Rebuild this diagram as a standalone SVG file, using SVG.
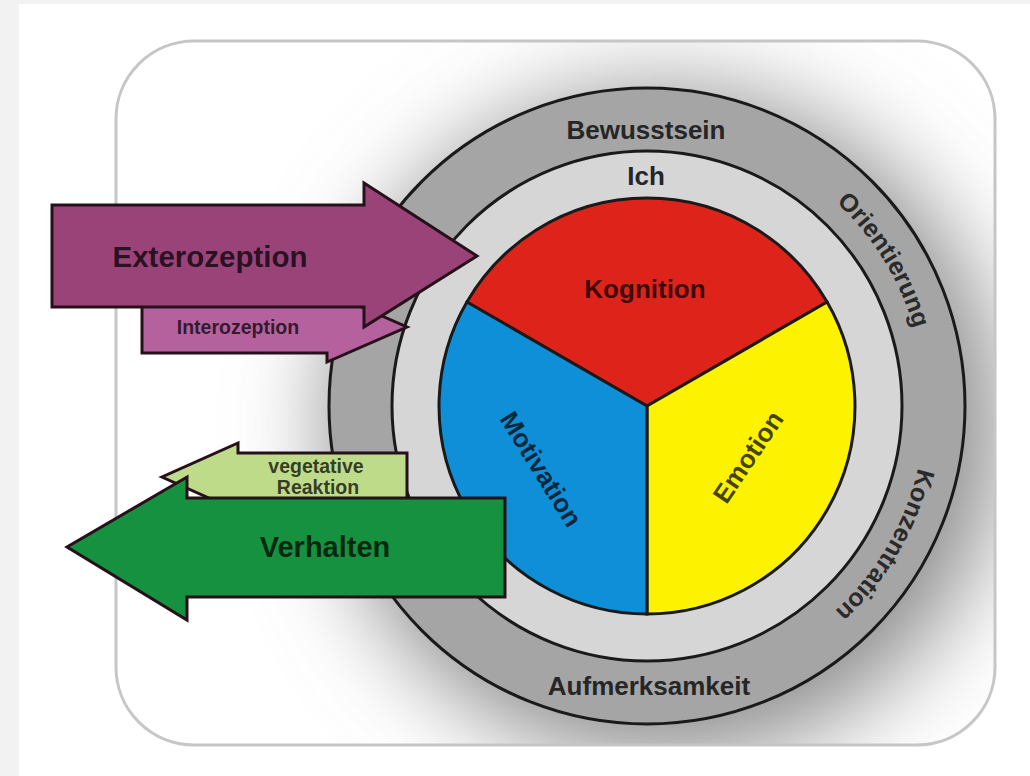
<svg xmlns="http://www.w3.org/2000/svg" width="1030" height="776" viewBox="0 0 1030 776">
  <defs>
    <style>
      .t { font-family: "Liberation Sans", Arial, sans-serif; font-weight: bold; text-anchor: middle; fill: #000; fill-opacity: 0.74; }
      .ring { font-family: "Liberation Sans", Arial, sans-serif; font-size: 26px; font-weight: bold; text-anchor: middle; fill: #262626; }
      .arc { font-family: "Liberation Sans", Arial, sans-serif; font-size: 25px; font-weight: bold; text-anchor: middle; fill: #2a2a2a; }
      .edge { stroke: #1a1a1a; stroke-width: 3; stroke-linejoin: miter; }
      .arrow { stroke: #261019; stroke-width: 3; stroke-linejoin: miter; }
    </style>
    <clipPath id="frameClip">
      <rect x="116" y="41" width="879" height="704" rx="78" ry="78"/>
    </clipPath>
    <filter id="halo" x="-50%" y="-50%" width="200%" height="200%">
      <feGaussianBlur stdDeviation="48"/>
    </filter>
    <!-- clockwise circle for the curved ring captions, starting at the top -->
    <path id="ringPath" d="M 647,128 A 278 278 0 1 1 647,684 A 278 278 0 1 1 647,128"/>
  </defs>

  <!-- page -->
  <rect x="0" y="0" width="1030" height="776" fill="#f2f2f2"/>
  <rect x="19" y="4" width="1011" height="772" fill="#ffffff"/>

  <!-- soft shadow behind the rings, kept inside the frame -->
  <g clip-path="url(#frameClip)">
    <circle cx="665" cy="425" r="335" fill="#8c8c8c" filter="url(#halo)"/>
  </g>
  <rect id="frame" x="116" y="41" width="879" height="704" rx="78" ry="78" fill="none" stroke="#c6c6c6" stroke-width="3"/>

  <!-- outer ring -->
  <g id="bewusstsein">
    <circle cx="647" cy="406" r="318" fill="#a5a5a5" class="edge"/>
    <text class="ring" x="646" y="139">Bewusstsein</text>
    <text class="arc"><textPath href="#ringPath" startOffset="283">Orientierung</textPath></text>
    <text class="arc"><textPath href="#ringPath" startOffset="583">Konzentration</textPath></text>
    <text class="ring" x="649" y="695">Aufmerksamkeit</text>
  </g>

  <!-- inner ring -->
  <g id="ich">
    <circle cx="647" cy="406" r="255" fill="#d6d6d6" class="edge"/>
    <text class="ring" x="646" y="185" font-size="25">Ich</text>
  </g>

  <!-- three sectors -->
  <g id="kognition">
    <path d="M 647,406 L 466.9,302 A 208 208 0 0 1 827.1,302 Z" fill="#de231b" class="edge"/>
    <text class="t" x="645" y="298" font-size="26">Kognition</text>
  </g>
  <g id="emotion">
    <path d="M 647,406 L 827.1,302 A 208 208 0 0 1 647,614 Z" fill="#fdf300" class="edge"/>
    <text class="t" font-size="26" transform="translate(748,457) rotate(-56)" y="9">Emotion</text>
  </g>
  <g id="motivation">
    <path d="M 647,406 L 647,614 A 208 208 0 0 1 466.9,302 Z" fill="#0e8fd8" class="edge"/>
    <text class="t" font-size="26" transform="translate(541,469) rotate(58)" y="9">Motivation</text>
  </g>

  <!-- input and output arrows -->
  <g id="arrows">
    <g id="interozeption">
      <polygon points="142,301 327,301 327,292 407,327 327,362 327,353 142,353" fill="#b5619e" class="arrow"/>
      <text class="t" x="238" y="334" font-size="19.5">Interozeption</text>
    </g>
    <g id="exterozeption">
      <polygon points="52,205 364,205 364,183 477,256 364,327 364,307 52,307" fill="#9a4379" class="arrow"/>
      <text class="t" x="210" y="267" font-size="29.5">Exterozeption</text>
    </g>
    <g id="vegetative-reaktion">
      <polygon points="407,453 238,453 238,443 162,477 238,511 238,501 407,501" fill="#bedb8a" class="arrow"/>
      <text class="t" x="316" y="473" font-size="19.5">vegetative</text>
      <text class="t" x="318" y="494" font-size="19.5">Reaktion</text>
    </g>
    <g id="verhalten">
      <polygon points="505,498 187,498 187,477 67,547 187,620 187,597 505,597" fill="#16913f" class="arrow"/>
      <text class="t" x="325" y="557" font-size="29">Verhalten</text>
    </g>
  </g>
</svg>
